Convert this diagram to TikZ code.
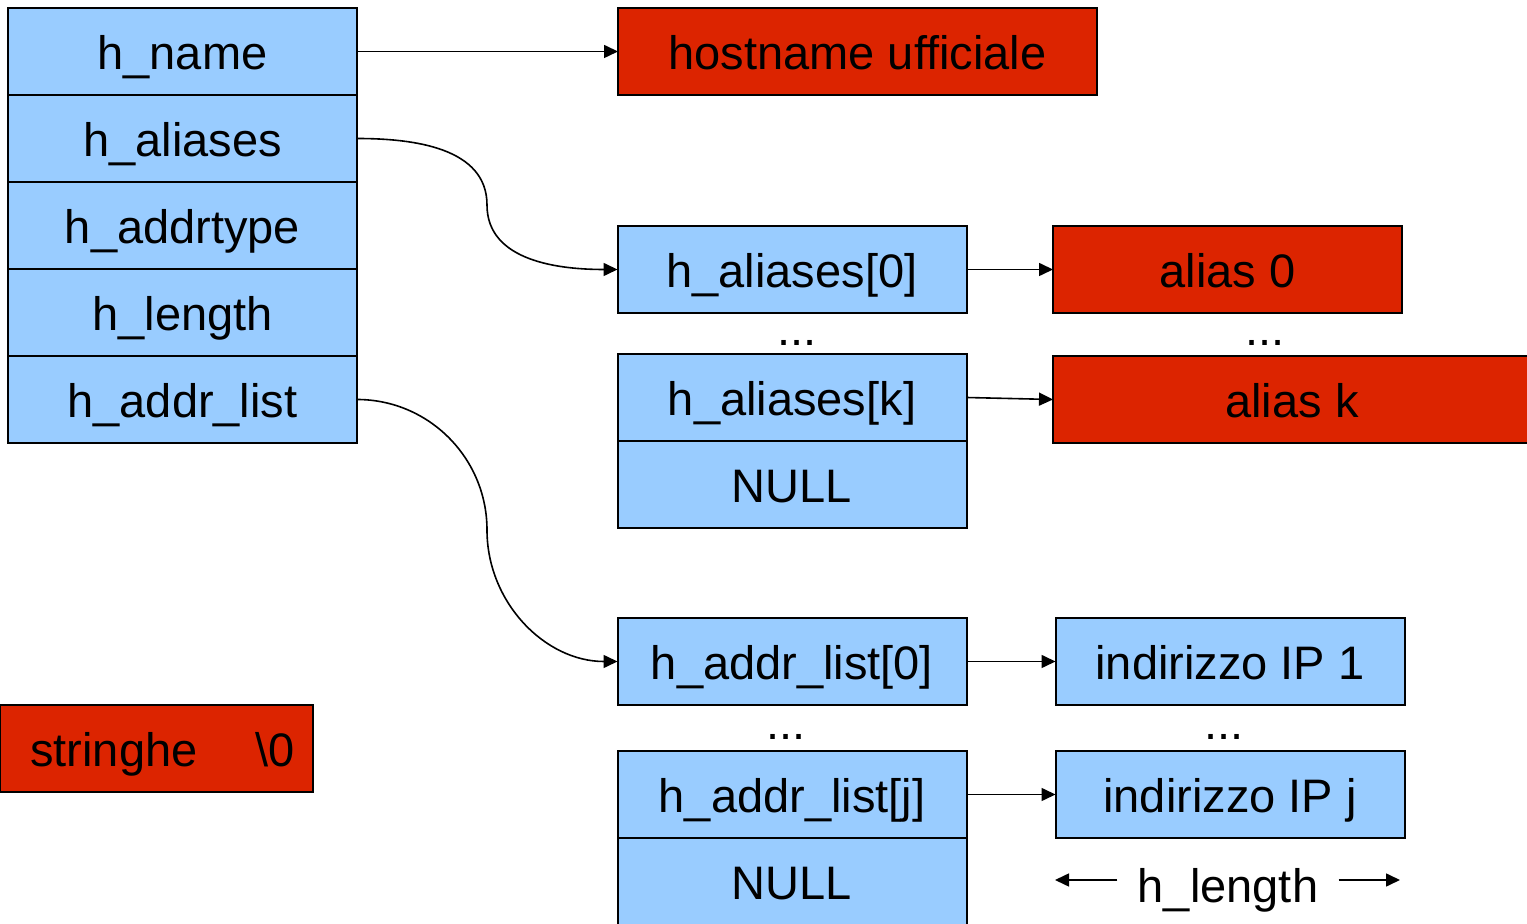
\documentclass[tikz,border=0pt]{standalone}
\usepackage{fontspec}
\setmainfont{Liberation Sans}
\usepackage{tikz}
\usetikzlibrary{arrows.meta}
\definecolor{cellblue}{RGB}{153,204,255}
\definecolor{cellred}{RGB}{220,36,0}
\tikzset{cell/.style={draw=black, line width=1pt, fill=cellblue, minimum width=174.5pt, minimum height=43.5pt, inner sep=0pt, outer sep=0pt, text height=22.3pt, text depth=4pt, font=\fontsize{23.5}{28}\selectfont},
%red boxes hold the strings
strbox/.style={cell, fill=cellred, minimum width=#1},
strbox/.default={174.5pt},
ptr/.style={-{Triangle[length=7pt,width=6.5pt]}, line width=0.8pt},
dots/.style={anchor=base, inner sep=0pt, font=\fontsize{23.5}{28}\selectfont}}

\begin{document}
\begin{tikzpicture}[x=0.5pt,y=-0.5pt]
\useasboundingbox (0,0) rectangle (1527,924);
% struct hostent
\node[cell] (hname) at (182.5,51.5) {h\_name};
\node[cell] (hal) at (182.5,138.5) {h\_aliases};
\node[cell] (hat) at (182.5,225.5) {h\_addrtype};
\node[cell] (hlen) at (182.5,312.5) {h\_length};
\node[cell] (hadl) at (182.5,399.5) {h\_addr\_list};

\node[strbox=239.5pt] (host) at (857.5,51.5) {hostname ufficiale};

% aliases
\node[cell] (al0) at (792,269.5) {h\_aliases[0]};
\node[strbox] (alias0) at (1227.5,269.5) {alias 0};
\node[dots] (dal) at (797,346) {...};
\node[dots] (dalr) at (1265,346) {...};
\node[cell] (alk) at (792,397.5) {h\_aliases[k]};
\node[cell] (nulla) at (792,484.5) {NULL};
\node[strbox=239pt] (aliask) at (1292,399.5) {alias k};

% addresses
\node[cell] (ad0) at (792,661.5) {h\_addr\_list[0]};
\node[cell] (ip1) at (1230,661.5) {indirizzo IP 1};
\node[dots] (dad) at (786,740) {...};
\node[dots] (dadr) at (1224,740) {...};
\node[cell] (adj) at (792,794.5) {h\_addr\_list[j]};
\node[cell] (nullb) at (792,881.5) {NULL};
\node[cell] (ipj) at (1230,794.5) {indirizzo IP j};

\node[strbox=156.5pt] (str) at (156.5,748.5) {\hspace{6pt}stringhe\hspace{29pt}\textbackslash0};

%length of an address
\node[font=\fontsize{23.5}{28}\selectfont, inner xsep=10pt] (hl) at (1228,890) {h\_length};
\coordinate (lenl) at (1055,880);
\coordinate (lenr) at (1400,880);
\draw[ptr] (hl.west |- lenl) -- (lenl);
\draw[ptr] (hl.east |- lenr) -- (lenr);

% pointers
\draw[ptr] (hname.east) -- (host.west);
\draw[ptr] (hal.east) to[out=0,in=90] (487,205) to[out=-90,in=180] (al0.west);
\draw[ptr] (hadl.east) to[out=0,in=90] (487,530) to[out=-90,in=180] (ad0.west);
\draw[ptr] (al0.east) -- (alias0.west);
\draw[ptr] (alk.east) -- (aliask.west);
\draw[ptr] (ad0.east) -- (ip1.west);
\draw[ptr] (adj.east) -- (ipj.west);

\end{tikzpicture}
\end{document}
